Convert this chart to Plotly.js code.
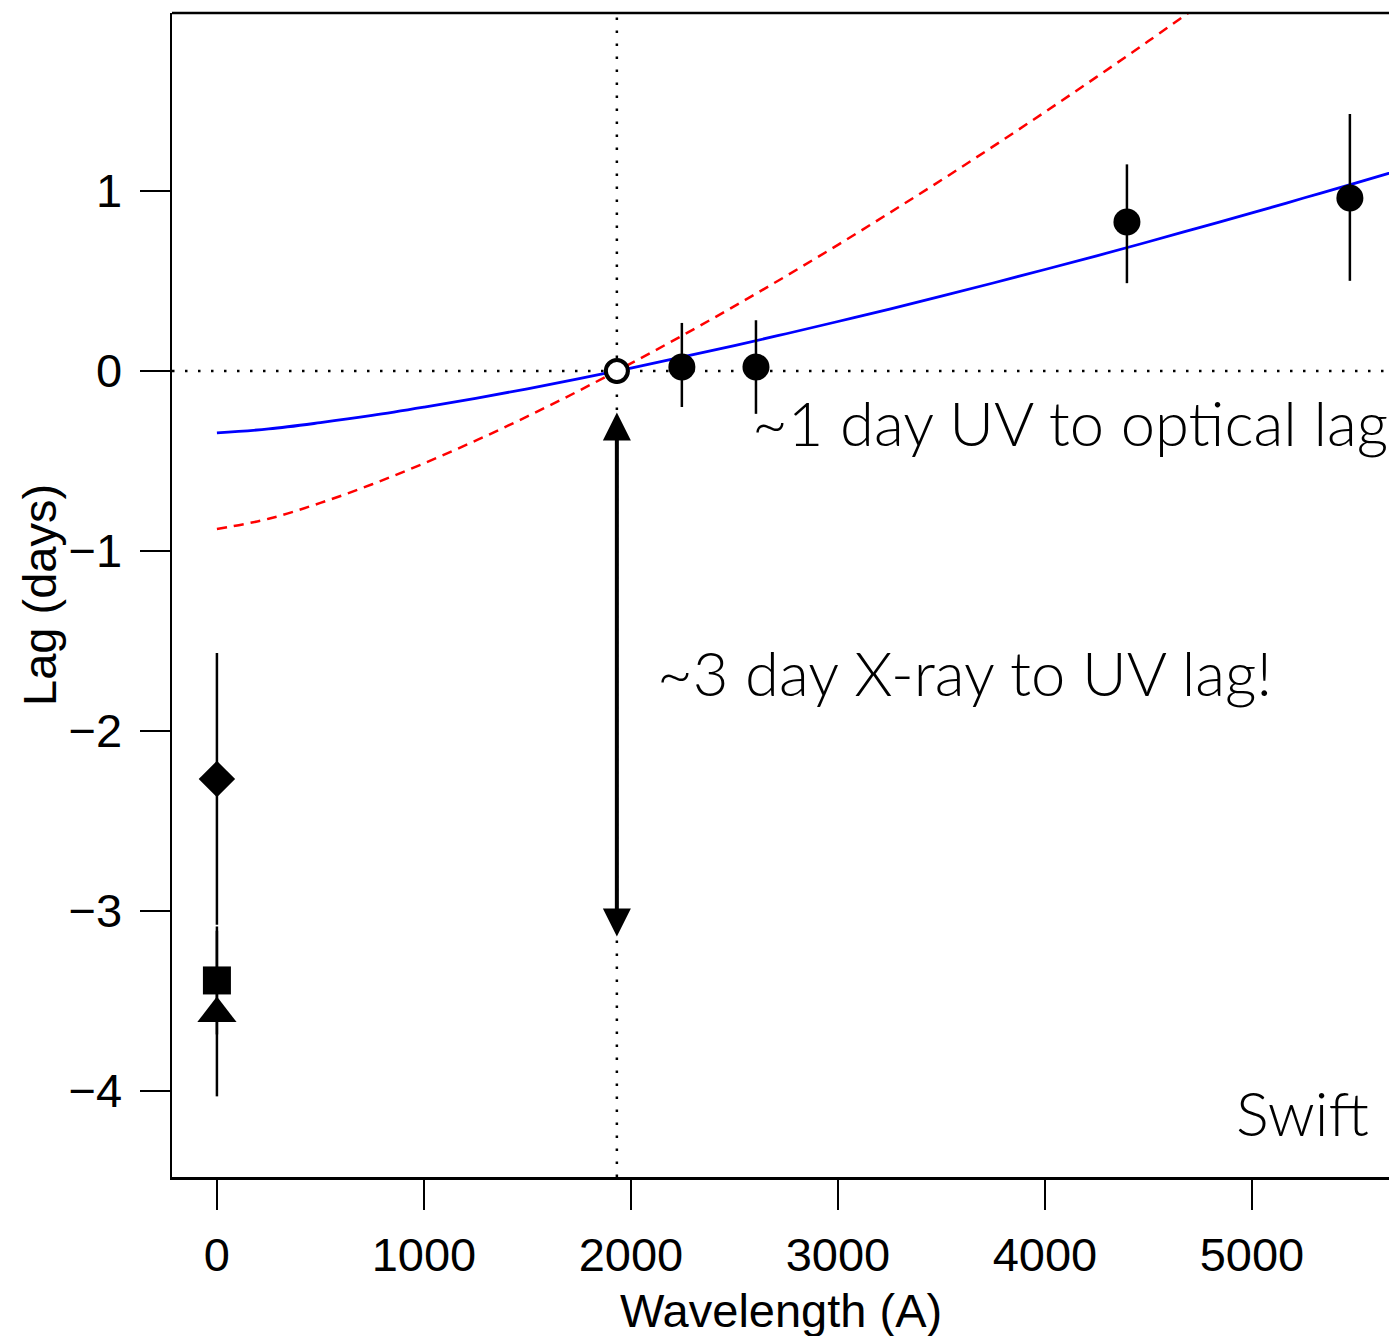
<!DOCTYPE html>
<html><head><meta charset="utf-8">
<script src="https://cdn.plot.ly/plotly-3.0.1.min.js"></script>
<style>html,body{margin:0;padding:0;background:#fff;overflow:hidden;}#chart{width:1389px;height:1336px;}</style>
</head><body><div id="chart"></div>
<script>
// Model curves
const blueWavelength = [0,250,500,750,1000,1250,1500,1750,2000,2250,2500,2750,3000,3250,3500,3750,4000,4250,4500,4750,5000,5250,5500,5750];
const blueLag = [-0.344,-0.322,-0.287,-0.247,-0.201,-0.152,-0.099,-0.043,0.016,0.078,0.141,0.207,0.275,0.344,0.416,0.489,0.564,0.640,0.718,0.798,0.878,0.961,1.044,1.129];
const redWavelength = [0,250,500,750,1000,1250,1500,1750,2000,2250,2500,2750,3000,3250,3500,3750,4000,4250,4500,4750];
const redLag = [-0.878,-0.821,-0.733,-0.629,-0.513,-0.387,-0.252,-0.109,0.042,0.198,0.360,0.528,0.701,0.879,1.061,1.248,1.439,1.634,1.833,2.036];

// UV / optical lags
const uvOptWavelength = [2246, 2604, 4396, 5473];
const uvOptLag = [0.022, 0.022, 0.828, 0.961];
const uvOptErrPlus = [0.245, 0.26, 0.32, 0.467];
const uvOptErrMinus = [0.222, 0.26, 0.34, 0.46];

// Reference band
const refWavelength = [1932];
const refLag = [0];

// X-ray lags
const xrayWavelength = [0, 0, 0];
const xrayLag = [-2.267, -3.386, -3.57];
const xrayErrPlus = [0.70, 0.30, 0.46];
const xrayErrMinus = [0.81, 0.30, 0.46];
const xraySymbols = ['diamond', 'square', 'triangle-up'];
const xraySizes = [28, 28, 34];

// Arrow ends (lag, days)
const arrowTop = -0.23;
const arrowBottom = -3.15;

const xTicks = [0, 1000, 2000, 3000, 4000, 5000];
const yTicks = [-4, -3, -2, -1, 0, 1];

const labelFont = {family: 'Liberation Sans, Arial, Helvetica, sans-serif', size: 47, color: '#000'};
const thinFont = {family: 'Lato, sans-serif', size: 61.5, color: '#000', weight: 300};

const traces = [
  {x: redWavelength, y: redLag, mode: 'lines', line: {color: '#ff0000', width: 2.5, dash: '10px,7px', shape: 'spline'}, hoverinfo: 'skip'},
  {x: blueWavelength, y: blueLag, mode: 'lines', line: {color: '#0000ff', width: 2.8, shape: 'spline'}, hoverinfo: 'skip'},
  {x: xrayWavelength, y: xrayLag, mode: 'markers',
   marker: {symbol: xraySymbols, size: xraySizes, color: '#000', opacity: 1, line: {width: 0}},
   error_y: {type: 'data', symmetric: false, array: xrayErrPlus, arrayminus: xrayErrMinus, color: '#000', thickness: 2.5, width: 0}},
  {x: uvOptWavelength, y: uvOptLag, mode: 'markers',
   marker: {symbol: 'circle', size: 27, color: '#000', opacity: 1, line: {width: 0}},
   error_y: {type: 'data', symmetric: false, array: uvOptErrPlus, arrayminus: uvOptErrMinus, color: '#000', thickness: 2.5, width: 0}},
  {x: refWavelength, y: refLag, mode: 'markers',
   marker: {symbol: 'circle', size: 22, color: '#fff', opacity: 1, line: {width: 4, color: '#000'}}}
];

const layout = {
  width: 1389, height: 1336,
  margin: {l: 172, r: 0, t: 13, b: 159},
  paper_bgcolor: '#fff', plot_bgcolor: '#fff',
  showlegend: false,
  xaxis: {range: [-217, 5662], tickvals: xTicks, ticktext: xTicks.map(String), ticks: 'outside', ticklen: 30, tickwidth: 2.5, tickcolor: '#000',
          showline: true, linewidth: 2.5, linecolor: '#000', showgrid: false, zeroline: false, tickfont: labelFont, ticklabelstandoff: 5},
  yaxis: {range: [-4.478, 1.989], tickvals: yTicks, ticks: 'outside', ticklen: 30, tickwidth: 2.5, tickcolor: '#000',
          showline: true, linewidth: 2.5, linecolor: '#000', showgrid: false, zeroline: false, tickfont: labelFont, ticklabelstandoff: 8},
  shapes: [
    {type: 'line', xref: 'paper', yref: 'paper', x0: 0, x1: 1, y0: 1, y1: 1, line: {color: '#000', width: 2.5}},
    {type: 'line', xref: 'paper', yref: 'y', x0: 0, x1: 1, y0: refLag[0], y1: refLag[0], layer: 'below', line: {color: '#000', width: 2.5, dash: '2.5px,10.5px'}},
    {type: 'line', xref: 'x', yref: 'paper', x0: refWavelength[0], x1: refWavelength[0], y0: 0, y1: 1, layer: 'below', line: {color: '#000', width: 2.5, dash: '2.5px,10.5px'}}
  ],
  annotations: [
    {xref: 'x', yref: 'y', axref: 'x', ayref: 'y', x: refWavelength[0], y: arrowTop, ax: refWavelength[0], ay: arrowBottom, text: '',
     showarrow: true, arrowside: 'end+start', arrowhead: 2, startarrowhead: 2, arrowsize: 1.4, startarrowsize: 1.4, arrowwidth: 4, arrowcolor: '#000', standoff: 0, startstandoff: 0},
    {xref: 'paper', yref: 'paper', x: 0.4749, y: 0.6486, xanchor: 'left', yanchor: 'middle', text: '~1 day UV to optical lag', showarrow: false, font: thinFont},
    {xref: 'paper', yref: 'paper', x: 0.3969, y: 0.4335, xanchor: 'left', yanchor: 'middle', text: '~3 day X-ray to UV lag!', showarrow: false, font: thinFont},
    {xref: 'paper', yref: 'paper', x: 0.9850, y: 0.0560, xanchor: 'right', yanchor: 'middle', text: 'Swift', showarrow: false, font: thinFont},
    {xref: 'paper', yref: 'paper', x: 0.5, y: -0.1145, xanchor: 'center', yanchor: 'middle', text: 'Wavelength (A)', showarrow: false, font: labelFont},
    {xref: 'paper', yref: 'paper', x: -0.1093, y: 0.5, xanchor: 'center', yanchor: 'middle', textangle: -90, text: 'Lag (days)', showarrow: false, font: labelFont}
  ]
};

Plotly.newPlot('chart', traces, layout, {displayModeBar: false, staticPlot: true});
</script>
</body></html>
